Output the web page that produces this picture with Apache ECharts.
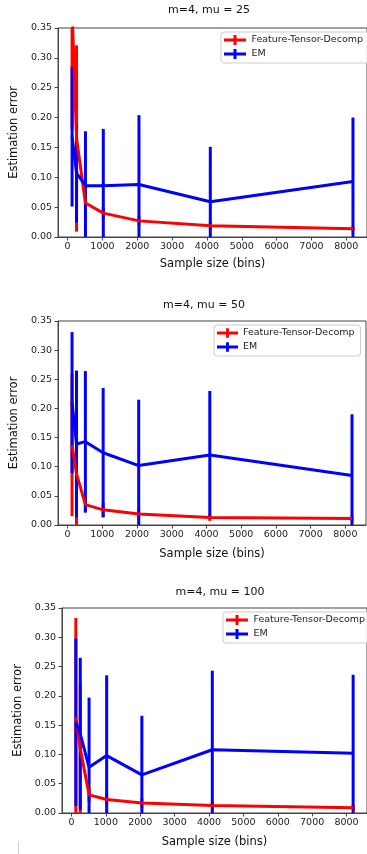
<!DOCTYPE html>
<html>
<head>
<meta charset="utf-8">
<script src="https://cdn.jsdelivr.net/npm/echarts@6/dist/echarts.min.js"></script>
<style>
html,body{margin:0;padding:0;background:#fff;}
#chart{width:367px;height:854px;}
</style>
</head>
<body>
<div id="chart"></div>
<script>
// ---- data ----
const sampleSizes = [128, 256, 512, 1024, 2048, 4096, 8192];
const xTicks = [0, 1000, 2000, 3000, 4000, 5000, 6000, 7000, 8000];
const panelTitles = ['m=4, mu = 25', 'm=4, mu = 50', 'm=4, mu = 100'];
const seriesNames = ['Feature-Tensor-Decomp', 'EM'];

// mu = 25
const ftd25Mean = [0.380, 0.165, 0.057, 0.040, 0.027, 0.019, 0.014];
const ftd25Err  = [0.200, 0.156, 0.015, 0.010, 0.008, 0.006, 0.004];
const em25Mean  = [0.168, 0.107, 0.086, 0.086, 0.088, 0.059, 0.093];
const em25Err   = [0.117, 0.083, 0.091, 0.095, 0.116, 0.092, 0.107];
// mu = 50
const ftd50Mean = [0.137, 0.088, 0.035, 0.026, 0.019, 0.013, 0.011];
const ftd50Err  = [0.122, 0.090, 0.014, 0.012, 0.010, 0.006, 0.005];
const em50Mean  = [0.210, 0.139, 0.143, 0.124, 0.102, 0.120, 0.085];
const em50Err   = [0.121, 0.126, 0.121, 0.111, 0.113, 0.110, 0.105];
// mu = 100
const ftd100Mean = [0.163, 0.110, 0.031, 0.023, 0.017, 0.013, 0.009];
const ftd100Err  = [0.170, 0.110, 0.012, 0.010, 0.008, 0.006, 0.005];
const em100Mean  = [0.155, 0.135, 0.078, 0.098, 0.065, 0.108, 0.102];
const em100Err   = [0.143, 0.130, 0.119, 0.137, 0.101, 0.135, 0.134];

const panels = [
  {ftdMean: ftd25Mean, ftdErr: ftd25Err, emMean: em25Mean, emErr: em25Err},
  {ftdMean: ftd50Mean, ftdErr: ftd50Err, emMean: em50Mean, emErr: em50Err},
  {ftdMean: ftd100Mean, ftdErr: ftd100Err, emMean: em100Mean, emErr: em100Err}
];

// ---- layout (styles only) ----
const FONT = 'DejaVu Sans';
const RED = '#ff0000', BLUE = '#0000ff';
const layout = [
  {left: 58, top: 28, width: 318, height: 209, titleX: 209, titleY: 10, yGap: 37, xGap: 21,
   legLeft: 221, legTop: 32, legW: 23},
  {left: 54, top: 321, width: 312, height: 204, titleX: 204, titleY: 305, yGap: 31, xGap: 23,
   legLeft: 214, legTop: 325, legW: 21},
  {left: 62, top: 608, width: 320, height: 205, titleX: 220, titleY: 592, yGap: 30, xGap: 23,
   legLeft: 223, legTop: 612, legW: 23}
];

const iconPath = 'path://M0,3.5L22,3.5L22,6.5L0,6.5Z M9.5,0L12.5,0L12.5,10L9.5,10Z';

const grids = [], xAxes = [], yAxes = [], series = [], legends = [], graphics = [];

function errRender(color) {
  return function (params, api) {
    const x = api.value(0);
    const p1 = api.coord([x, api.value(1)]);
    const p2 = api.coord([x, api.value(2)]);
    return {
      type: 'line',
      shape: {x1: p1[0], y1: p1[1], x2: p2[0], y2: p2[1]},
      style: {stroke: color, lineWidth: 3}
    };
  };
}

panels.forEach((p, i) => {
  const L = layout[i];
  grids.push({left: L.left, top: L.top, width: L.width, height: L.height,
    show: true, borderColor: '#444', borderWidth: 1, backgroundColor: 'transparent', containLabel: false});
  xAxes.push({
    type: 'value', gridIndex: i, min: -275, max: 8595,
    name: 'Sample size (bins)', nameLocation: 'middle', nameGap: L.xGap,
    nameTextStyle: {fontFamily: FONT, fontSize: 11.5, color: '#111'},
    axisLine: {show: true, onZero: false, lineStyle: {color: '#444', width: 1}},
    axisTick: {show: true, length: 3.5, lineStyle: {color: '#444'}, customValues: xTicks},
    axisLabel: {fontFamily: FONT, fontSize: 9.5, color: '#222', margin: 5, customValues: xTicks,
      formatter: v => String(Math.round(v))},
    splitLine: {show: false}
  });
  yAxes.push({
    type: 'value', gridIndex: i, min: 0, max: 0.35, interval: 0.05,
    name: 'Estimation error', nameLocation: 'middle', nameGap: L.yGap,
    nameTextStyle: {fontFamily: FONT, fontSize: 11.5, color: '#111'},
    axisLine: {show: true, onZero: false, lineStyle: {color: '#444', width: 1}},
    axisTick: {show: true, length: 3.5, lineStyle: {color: '#444'}},
    axisLabel: {fontFamily: FONT, fontSize: 9.5, color: '#222', margin: 6,
      formatter: v => v.toFixed(2)},
    splitLine: {show: false}
  });
  const ftdLine = sampleSizes.map((x, k) => [x, p.ftdMean[k]]);
  const ftdBars = sampleSizes.map((x, k) => [x, p.ftdMean[k] - p.ftdErr[k], p.ftdMean[k] + p.ftdErr[k]]);
  const emLine = sampleSizes.map((x, k) => [x, p.emMean[k]]);
  const emBars = sampleSizes.map((x, k) => [x, p.emMean[k] - p.emErr[k], p.emMean[k] + p.emErr[k]]);
  series.push({
    name: seriesNames[0], type: 'line', xAxisIndex: i, yAxisIndex: i, data: ftdLine,
    symbol: 'none', color: RED, lineStyle: {color: RED, width: 3}, itemStyle: {color: RED, borderWidth: 0},
    clip: true, z: 2
  });
  series.push({
    name: 'ftd-err-' + i, type: 'custom', xAxisIndex: i, yAxisIndex: i, data: ftdBars,
    renderItem: errRender(RED), encode: {x: 0, y: [1, 2]}, clip: true, z: 2
  });
  series.push({
    name: seriesNames[1], type: 'line', xAxisIndex: i, yAxisIndex: i, data: emLine,
    symbol: 'none', color: BLUE, lineStyle: {color: BLUE, width: 3}, itemStyle: {color: BLUE, borderWidth: 0},
    clip: true, z: 2
  });
  series.push({
    name: 'em-err-' + i, type: 'custom', xAxisIndex: i, yAxisIndex: i, data: emBars,
    renderItem: errRender(BLUE), encode: {x: 0, y: [1, 2]}, clip: true, z: 2
  });
  legends.push({
    data: seriesNames, orient: 'vertical', left: L.legLeft, top: L.legTop,
    itemWidth: L.legW, itemHeight: 10, itemGap: 4, icon: iconPath,
    padding: [3, 6, 4, 3], backgroundColor: 'rgba(255,255,255,0.85)',
    borderColor: '#cccccc', borderWidth: 1, borderRadius: 3,
    textStyle: {fontFamily: FONT, fontSize: 9.5, color: '#222'},
    selectedMode: false, itemStyle: {borderWidth: 0}
  });
  graphics.push({
    type: 'text', x: L.titleX, y: L.titleY,
    style: {text: panelTitles[i], fontFamily: FONT, fontSize: 11, fill: '#111',
      textAlign: 'center', textVerticalAlign: 'middle', align: 'center', verticalAlign: 'middle'}
  });
});

graphics.push({type: 'line', shape: {x1: 18.5, y1: 842, x2: 18.5, y2: 854},
  style: {stroke: '#cccccc', lineWidth: 1}});

const chart = echarts.init(document.getElementById('chart'), null, {renderer: 'canvas'});
chart.setOption({
  animation: false,
  backgroundColor: '#ffffff',
  grid: grids, xAxis: xAxes, yAxis: yAxes, series: series, legend: legends, graphic: graphics
});
</script>
</body>
</html>
